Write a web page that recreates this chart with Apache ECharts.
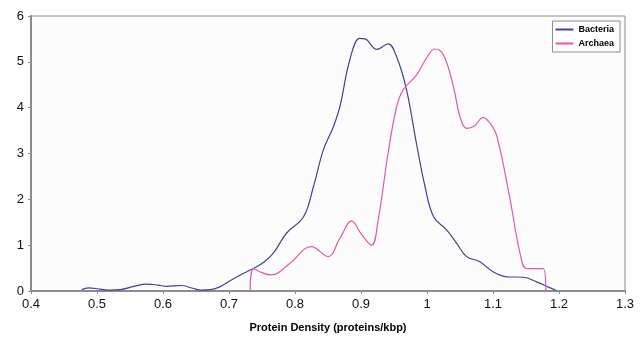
<!DOCTYPE html>
<html>
<head>
<meta charset="utf-8">
<script src="https://cdn.jsdelivr.net/npm/echarts@6/dist/echarts.min.js"></script>
<style>
  html, body { margin: 0; padding: 0; background: #ffffff; }
  #chart { width: 643px; height: 345px; }
</style>
</head>
<body>
<div id="chart"></div>
<script>
// Protein density distributions: [density (proteins/kbp), frequency]
const bacteria = [
  [0.477, 0.03], [0.487, 0.07], [0.505, 0.04], [0.52, 0.02], [0.535, 0.03],
  [0.556, 0.10], [0.575, 0.15], [0.592, 0.13], [0.606, 0.10], [0.628, 0.12],
  [0.645, 0.06], [0.658, 0.02], [0.672, 0.03], [0.686, 0.09], [0.712, 0.31],
  [0.737, 0.49], [0.752, 0.62], [0.767, 0.82], [0.787, 1.26], [0.813, 1.62],
  [0.828, 2.28], [0.843, 3.08], [0.858, 3.58], [0.868, 4.02], [0.883, 5.04],
  [0.898, 5.51], [0.906, 5.50], [0.924, 5.27], [0.941, 5.39], [0.954, 5.11],
  [0.969, 4.39], [0.984, 3.22], [0.997, 2.28], [1.010, 1.62], [1.030, 1.33],
  [1.045, 1.04], [1.060, 0.75], [1.080, 0.64], [1.100, 0.42], [1.121, 0.31],
  [1.146, 0.30], [1.166, 0.20], [1.185, 0.08], [1.196, 0.01]
];

const archaea = [
  [0.732, 0.00], [0.737, 0.49], [0.750, 0.40], [0.764, 0.35], [0.792, 0.60],
  [0.825, 0.97], [0.850, 0.75], [0.868, 1.15], [0.886, 1.53], [0.900, 1.25],
  [0.916, 1.00], [0.926, 1.55], [0.941, 3.00], [0.954, 4.02], [0.964, 4.39],
  [0.984, 4.71], [1.000, 5.10], [1.012, 5.28], [1.025, 5.15], [1.040, 4.46],
  [1.050, 3.80], [1.060, 3.55], [1.072, 3.60], [1.085, 3.79], [1.096, 3.65],
  [1.106, 3.37], [1.126, 1.99], [1.141, 0.82], [1.151, 0.49], [1.176, 0.49],
  [1.180, 0.00]
];

const xTicks = { min: 0.4, max: 1.3, interval: 0.1 };
const yTicks = { min: 0, max: 6, interval: 1 };

const chart = echarts.init(document.getElementById('chart'), null, { renderer: 'canvas' });

const axisGray = '#8c8c8c';
const fontFamily = 'Liberation Sans, Arial, sans-serif';

chart.setOption({
  animation: false,
  backgroundColor: '#ffffff',
  grid: {
    left: 31, right: 18, top: 16, bottom: 54,
    show: true, backgroundColor: '#fcfcfc', borderColor: axisGray, borderWidth: 1
  },
  legend: {
    right: 23, top: 21,
    orient: 'vertical',
    itemWidth: 18, itemHeight: 2, itemGap: 5,
    padding: [4, 6, 4, 3],
    borderColor: axisGray, borderWidth: 1, backgroundColor: '#ffffff',
    icon: 'rect',
    textStyle: { fontFamily, fontSize: 9, fontWeight: 'bold', color: '#000' },
    data: ['Bacteria', 'Archaea']
  },
  xAxis: {
    type: 'value',
    min: xTicks.min, max: xTicks.max, interval: xTicks.interval,
    name: 'Protein Density (proteins/kbp)',
    nameLocation: 'middle', nameGap: 31,
    nameTextStyle: { fontFamily, fontSize: 11, fontWeight: 'bold', color: '#000' },
    axisLine: { lineStyle: { color: axisGray, width: 2 } },
    axisTick: { show: true, length: 3, lineStyle: { color: axisGray } },
    splitLine: { show: false },
    axisLabel: {
      fontFamily, fontSize: 13, color: '#111', margin: 7,
      formatter: v => String(parseFloat(v.toFixed(1)))
    }
  },
  yAxis: {
    type: 'value',
    min: yTicks.min, max: yTicks.max, interval: yTicks.interval,
    axisLine: { show: true, lineStyle: { color: axisGray, width: 2 } },
    axisTick: { show: true, length: 3, lineStyle: { color: axisGray } },
    splitLine: { show: false },
    axisLabel: { fontFamily, fontSize: 13, color: '#111', margin: 7 }
  },
  series: [
    {
      name: 'Bacteria', type: 'line', data: bacteria,
      smooth: 0.4, showSymbol: false, symbol: 'none',
      color: '#43439b',
      lineStyle: { color: '#43439b', width: 1.2 }
    },
    {
      name: 'Archaea', type: 'line', data: archaea,
      smooth: 0.4, showSymbol: false, symbol: 'none',
      color: '#e256ab',
      lineStyle: { color: '#e256ab', width: 1.2 }
    }
  ]
});
</script>
</body>
</html>
